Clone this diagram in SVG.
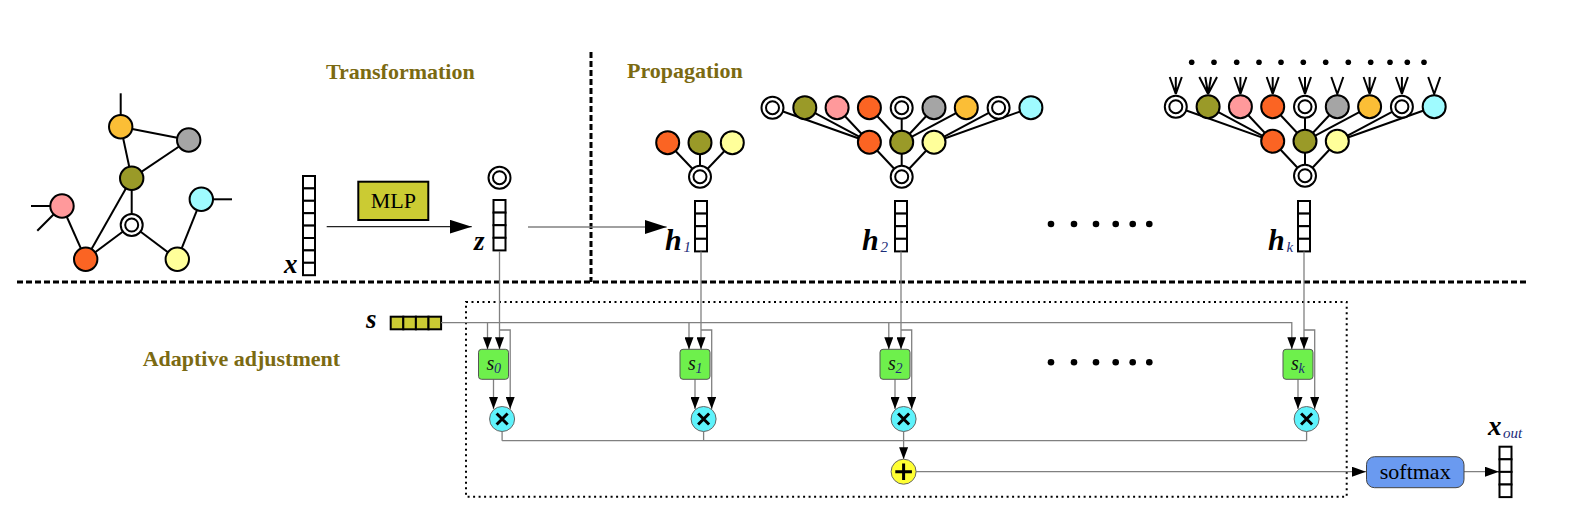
<svg xmlns="http://www.w3.org/2000/svg" width="1592" height="516" viewBox="0 0 1592 516">
<style>
.e{stroke:#000;stroke-width:2;fill:none}
.nd{stroke:#000;stroke-width:2}
.cell{fill:#fff;stroke:#000;stroke-width:2}
.ycell{fill:#cbcb33;stroke:#000;stroke-width:2}
.title{font-family:"Liberation Serif",serif;font-weight:bold;font-size:22px;fill:#7b6a12}
.lbl{font-family:"Liberation Serif",serif;font-weight:bold;font-style:italic;font-size:27px;fill:#000}
.hl{font-size:30px}
.sub{font-family:"Liberation Serif",serif;font-style:italic;font-size:15px;fill:#1c2c78}
.bx{font-family:"Liberation Serif",serif;font-style:italic;font-size:20px;fill:#111}
.bxs{font-family:"Liberation Serif",serif;font-style:italic;font-size:14px;fill:#1c2c78}
.wire{stroke:#808080;stroke-width:1.3;fill:none}
.wb{stroke:#222;stroke-width:1.2;fill:none}
.sbox{fill:#6ef04c;stroke:#555;stroke-width:1}
.mul{fill:#5ef3fc;stroke:#666;stroke-width:1}
.sym{stroke:#000;stroke-width:3;stroke-linecap:butt}
.ol{fill:#9a9a28}.rd{fill:#fb6423}.ly{fill:#ffff9a}.pk{fill:#ff999b}.gy{fill:#a5a5a5}.or{fill:#fbbe36}.cy{fill:#9ffbff}
.dot{fill:#000}
</style>
<defs>
<marker id="big" markerUnits="userSpaceOnUse" markerWidth="22" markerHeight="14" refX="22" refY="7" orient="auto"><path d="M0,0 L22,7 L0,14 z" fill="#000"/></marker>
<marker id="sm" markerUnits="userSpaceOnUse" markerWidth="12" markerHeight="9" refX="12" refY="4.5" orient="auto"><path d="M0,0 L12,4.5 L0,9 z" fill="#000"/></marker>
<marker id="md" markerUnits="userSpaceOnUse" markerWidth="14" markerHeight="10" refX="14" refY="5" orient="auto"><path d="M0,0 L14,5 L0,10 z" fill="#000"/></marker>
<g id="dbl"><circle r="11" fill="#fff" stroke="#000" stroke-width="2"/><circle r="6.5" fill="#fff" stroke="#000" stroke-width="2"/></g>
<g id="vec4"><rect x="0" y="0" width="12" height="12.6" class="cell"/><rect x="0" y="12.6" width="12" height="12.6" class="cell"/><rect x="0" y="25.2" width="12" height="12.6" class="cell"/><rect x="0" y="37.8" width="12" height="12.6" class="cell"/></g>
<g id="tree2">
<g class="e">
<line x1="0" y1="0" x2="-32.3" y2="-34.5"/><line x1="0" y1="0" x2="0" y2="-34.5"/><line x1="0" y1="0" x2="32.3" y2="-34.5"/>
<line x1="-32.3" y1="-34.5" x2="-129.2" y2="-69"/><line x1="-32.3" y1="-34.5" x2="-96.9" y2="-69"/><line x1="-32.3" y1="-34.5" x2="-64.6" y2="-69"/>
<line x1="0" y1="-34.5" x2="-32.3" y2="-69"/><line x1="0" y1="-34.5" x2="0" y2="-69"/><line x1="0" y1="-34.5" x2="32.3" y2="-69"/><line x1="0" y1="-34.5" x2="64.6" y2="-69"/>
<line x1="32.3" y1="-34.5" x2="96.9" y2="-69"/><line x1="32.3" y1="-34.5" x2="129.2" y2="-69"/>
</g>
<use href="#dbl" x="-129.2" y="-69"/>
<circle cx="-96.9" cy="-69" r="11.5" class="nd ol"/>
<circle cx="-64.6" cy="-69" r="11.5" class="nd pk"/>
<circle cx="-32.3" cy="-69" r="11.5" class="nd rd"/>
<use href="#dbl" x="0" y="-69"/>
<circle cx="32.3" cy="-69" r="11.5" class="nd gy"/>
<circle cx="64.6" cy="-69" r="11.5" class="nd or"/>
<use href="#dbl" x="96.9" y="-69"/>
<circle cx="129.2" cy="-69" r="11.5" class="nd cy"/>
<circle cx="-32.3" cy="-34.5" r="11.5" class="nd rd"/>
<circle cx="0" cy="-34.5" r="11.5" class="nd ol"/>
<circle cx="32.3" cy="-34.5" r="11.5" class="nd ly"/>
<use href="#dbl" x="0" y="0"/>
</g>
</defs>

<!-- separators -->
<g id="separators">
<line x1="17" y1="282" x2="1528" y2="282" stroke="#000" stroke-width="3" stroke-dasharray="6 3"/>
<line x1="591" y1="52" x2="591" y2="282" stroke="#000" stroke-width="3" stroke-dasharray="6 3"/>
<rect x="466" y="302" width="880.7" height="194.7" fill="none" stroke="#000" stroke-width="2" stroke-dasharray="2 3.5"/>
</g>

<!-- titles -->
<g id="titles">
<text x="326" y="79" class="title" font-size="22.3">Transformation</text>
<text x="627" y="78" class="title">Propagation</text>
<text x="142.7" y="366" class="title">Adaptive adjustment</text>
</g>

<!-- input graph -->
<g id="input-graph">
<g class="e">
<line x1="120.7" y1="126.7" x2="120.7" y2="93.3"/>
<line x1="62" y1="206" x2="31" y2="206"/>
<line x1="62" y1="206" x2="37.3" y2="230.7"/>
<line x1="201.3" y1="199.3" x2="232" y2="199.3"/>
<line x1="120.7" y1="126.7" x2="188.7" y2="140"/>
<line x1="120.7" y1="126.7" x2="131.7" y2="178.3"/>
<line x1="188.7" y1="140" x2="131.7" y2="178.3"/>
<line x1="131.7" y1="178.3" x2="131.7" y2="225"/>
<line x1="131.7" y1="178.3" x2="85.7" y2="259.3"/>
<line x1="62" y1="206" x2="85.7" y2="259.3"/>
<line x1="131.7" y1="225" x2="85.7" y2="259.3"/>
<line x1="131.7" y1="225" x2="177.3" y2="259.3"/>
<line x1="177.3" y1="259.3" x2="201.3" y2="199.3"/>
</g>
<circle cx="120.7" cy="126.7" r="11.7" class="nd or"/>
<circle cx="188.7" cy="140" r="11.7" class="nd gy"/>
<circle cx="131.7" cy="178.3" r="11.7" class="nd ol"/>
<circle cx="62" cy="206" r="11.7" class="nd pk"/>
<use href="#dbl" x="131.7" y="225"/>
<circle cx="201.3" cy="199.3" r="11.7" class="nd cy"/>
<circle cx="85.7" cy="259.3" r="11.7" class="nd rd"/>
<circle cx="177.3" cy="259.3" r="11.7" class="nd ly"/>
</g>

<!-- x vector -->
<g id="x-vec">
<rect x="303" y="176" width="12" height="12.4" class="cell"/>
<rect x="303" y="188.4" width="12" height="12.4" class="cell"/>
<rect x="303" y="200.8" width="12" height="12.4" class="cell"/>
<rect x="303" y="213.2" width="12" height="12.4" class="cell"/>
<rect x="303" y="225.6" width="12" height="12.4" class="cell"/>
<rect x="303" y="238" width="12" height="12.4" class="cell"/>
<rect x="303" y="250.4" width="12" height="12.4" class="cell"/>
<rect x="303" y="262.8" width="12" height="12.4" class="cell"/>
<text x="284" y="273" class="lbl">x</text>
</g>

<g id="mlp">
<rect x="358.3" y="181.7" width="70" height="38.3" fill="#cbcb33" stroke="#000" stroke-width="2"/>
<text x="393.3" y="208" text-anchor="middle" font-family="Liberation Serif, serif" font-size="22" fill="#000">MLP</text>
</g>

<g id="z-vec">
<use href="#dbl" x="499.5" y="177.7"/>
<use href="#vec4" x="493.5" y="200"/>
<text x="474" y="250" class="lbl">z</text>
</g>

<g id="h1">
<g class="e">
<line x1="700" y1="176.7" x2="667.7" y2="142.7"/><line x1="700" y1="176.7" x2="700" y2="142.7"/><line x1="700" y1="176.7" x2="732.3" y2="142.7"/>
</g>
<circle cx="667.7" cy="142.7" r="11.5" class="nd rd"/>
<circle cx="700" cy="142.7" r="11.5" class="nd ol"/>
<circle cx="732.3" cy="142.7" r="11.5" class="nd ly"/>
<use href="#dbl" x="700" y="176.7"/>
<use href="#vec4" x="695" y="201"/>
<text x="665" y="250" class="lbl hl">h</text><text x="683.5" y="252" class="sub">1</text>
</g>

<g id="h2">
<use href="#tree2" transform="translate(901.7,176.7)"/>
<use href="#vec4" x="895" y="201"/>
<text x="862" y="250" class="lbl hl">h</text><text x="880.5" y="252" class="sub">2</text>
</g>

<g id="hk">
<g class="dot">
<circle cx="1191.7" cy="62.3" r="2.8"/><circle cx="1214" cy="62.3" r="2.8"/><circle cx="1236.7" cy="62.3" r="2.8"/><circle cx="1259" cy="62.3" r="2.8"/><circle cx="1281" cy="62.3" r="2.8"/><circle cx="1303.3" cy="62.3" r="2.8"/><circle cx="1325.7" cy="62.3" r="2.8"/><circle cx="1348.3" cy="62.3" r="2.8"/><circle cx="1370.7" cy="62.3" r="2.8"/><circle cx="1390" cy="62.3" r="2.8"/><circle cx="1407.3" cy="62.3" r="2.8"/><circle cx="1424" cy="62.3" r="2.8"/>
</g>
<g class="e" stroke-width="1.8">
<path d="M1169.7,77 L1175.8,94 L1175.8,77 M1181.8,77 L1175.8,94"/>
<path d="M1199.3,77 L1208.1,94 L1205.3,77 M1211,77 L1208.1,94 L1217,77"/>
<path d="M1234.4,77 L1240.4,94 L1240.4,77 M1246.4,77 L1240.4,94"/>
<path d="M1266.7,77 L1272.7,94 L1272.7,77 M1278.7,77 L1272.7,94"/>
<path d="M1299,77 L1305,94 L1305,77 M1311,77 L1305,94"/>
<path d="M1331.3,77 L1337.3,94 L1343.3,77"/>
<path d="M1363.6,77 L1369.6,94 L1369.6,77 M1375.6,77 L1369.6,94"/>
<path d="M1395.9,77 L1401.9,94 L1401.9,77 M1407.9,77 L1401.9,94"/>
<path d="M1428.2,77 L1434.2,94 L1440.2,77"/>
</g>
<use href="#tree2" transform="translate(1305,175.7)"/>
<use href="#vec4" x="1298" y="201"/>
<text x="1268" y="250" class="lbl hl">h</text><text x="1286.5" y="252" class="sub">k</text>
</g>

<g id="ellipsis">
<g class="dot">
<circle cx="1051" cy="224" r="3.3"/><circle cx="1074" cy="224" r="3.3"/><circle cx="1096" cy="224" r="3.3"/><circle cx="1115.7" cy="224" r="3.3"/><circle cx="1132.7" cy="224" r="3.3"/><circle cx="1149.3" cy="224" r="3.3"/>
<circle cx="1051" cy="362.3" r="3.3"/><circle cx="1074" cy="362.3" r="3.3"/><circle cx="1096" cy="362.3" r="3.3"/><circle cx="1115.7" cy="362.3" r="3.3"/><circle cx="1132.7" cy="362.3" r="3.3"/><circle cx="1149.3" cy="362.3" r="3.3"/>
</g>
</g>

<g id="s-vec">
<text x="366" y="328" class="lbl">s</text>
<rect x="390.7" y="316.7" width="12.6" height="12.6" class="ycell"/>
<rect x="403.3" y="316.7" width="12.6" height="12.6" class="ycell"/>
<rect x="415.9" y="316.7" width="12.6" height="12.6" class="ycell"/>
<rect x="428.5" y="316.7" width="12.6" height="12.6" class="ycell"/>
</g>

<!-- connectors -->
<g id="connectors">
<line x1="326.7" y1="226.7" x2="471.7" y2="226.7" class="wb" marker-end="url(#big)"/>
<line x1="528" y1="227" x2="666.7" y2="227" class="wire" marker-end="url(#big)"/>
<polyline points="441.1,322.7 1291.8,322.7 1291.8,349.3" class="wire" marker-end="url(#sm)"/>
<line x1="487.5" y1="322.7" x2="487.5" y2="349.3" class="wire" marker-end="url(#sm)"/>
<line x1="689" y1="322.7" x2="689" y2="349.3" class="wire" marker-end="url(#sm)"/>
<line x1="888.8" y1="322.7" x2="888.8" y2="349.3" class="wire" marker-end="url(#sm)"/>
<line x1="499.5" y1="251" x2="499.5" y2="349.3" class="wire" marker-end="url(#sm)"/>
<line x1="701" y1="251.5" x2="701" y2="349.3" class="wire" marker-end="url(#sm)"/>
<line x1="901" y1="251.5" x2="901" y2="349.3" class="wire" marker-end="url(#sm)"/>
<line x1="1304" y1="251.5" x2="1304" y2="349.3" class="wire" marker-end="url(#sm)"/>
<polyline points="499.5,330 510.2,330 510.2,409" class="wire" marker-end="url(#sm)"/>
<polyline points="701,330 711.7,330 711.7,409" class="wire" marker-end="url(#sm)"/>
<polyline points="901,330 911.7,330 911.7,409" class="wire" marker-end="url(#sm)"/>
<polyline points="1304,330 1314.7,330 1314.7,409" class="wire" marker-end="url(#sm)"/>
<line x1="493.5" y1="379.3" x2="493.5" y2="409" class="wire" marker-end="url(#sm)"/>
<line x1="695" y1="379.3" x2="695" y2="409" class="wire" marker-end="url(#sm)"/>
<line x1="895" y1="379.3" x2="895" y2="409" class="wire" marker-end="url(#sm)"/>
<line x1="1298" y1="379.3" x2="1298" y2="409" class="wire" marker-end="url(#sm)"/>
<line x1="502.1" y1="431.5" x2="502.1" y2="440.7" class="wire"/>
<line x1="703.6" y1="431.5" x2="703.6" y2="440.7" class="wire"/>
<line x1="1306.6" y1="431.5" x2="1306.6" y2="440.7" class="wire"/>
<line x1="502.1" y1="440.7" x2="1306.6" y2="440.7" class="wire"/>
<line x1="903.6" y1="431.5" x2="903.6" y2="459.2" class="wire" marker-end="url(#sm)"/>
<line x1="916.1" y1="471.7" x2="1366" y2="471.7" class="wire" marker-end="url(#md)"/>
<line x1="1464" y1="471.7" x2="1499" y2="471.7" class="wire" marker-end="url(#md)"/>
</g>

<g id="s0">
<rect x="478.5" y="349.3" width="30" height="30" rx="3" class="sbox"/>
<text x="486.5" y="370" class="bx">s</text><text x="494" y="373" class="bxs">0</text>
<circle cx="502.1" cy="419" r="12.5" class="mul"/>
<path d="M496.6,413.5 L507.6,424.5 M507.6,413.5 L496.6,424.5" class="sym"/>
</g>
<g id="s1">
<rect x="680" y="349.3" width="30" height="30" rx="3" class="sbox"/>
<text x="688" y="370" class="bx">s</text><text x="695.5" y="373" class="bxs">1</text>
<circle cx="703.6" cy="419" r="12.5" class="mul"/>
<path d="M698.1,413.5 L709.1,424.5 M709.1,413.5 L698.1,424.5" class="sym"/>
</g>
<g id="s2">
<rect x="880" y="349.3" width="30" height="30" rx="3" class="sbox"/>
<text x="888" y="370" class="bx">s</text><text x="895.5" y="373" class="bxs">2</text>
<circle cx="903.6" cy="419" r="12.5" class="mul"/>
<path d="M898.1,413.5 L909.1,424.5 M909.1,413.5 L898.1,424.5" class="sym"/>
</g>
<g id="sk">
<rect x="1283" y="349.3" width="30" height="30" rx="3" class="sbox"/>
<text x="1291" y="370" class="bx">s</text><text x="1298.5" y="373" class="bxs">k</text>
<circle cx="1306.6" cy="419" r="12.5" class="mul"/>
<path d="M1301.1,413.5 L1312.1,424.5 M1312.1,413.5 L1301.1,424.5" class="sym"/>
</g>

<g id="sum">
<circle cx="903.6" cy="471.7" r="12.5" fill="#ffff33" stroke="#666" stroke-width="1"/>
<path d="M895.3,471.7 L911.9,471.7 M903.6,463.4 L903.6,480" class="sym"/>
</g>

<g id="softmax">
<rect x="1366.5" y="456.7" width="97.5" height="31" rx="8" fill="#6a9af0" stroke="#444" stroke-width="1"/>
<text x="1415.2" y="479" text-anchor="middle" font-family="Liberation Serif, serif" font-size="22" fill="#000">softmax</text>
</g>

<g id="x-out">
<use href="#vec4" x="1499.5" y="446.7"/>
<text x="1488" y="435" class="lbl">x</text><text x="1503" y="438" class="sub" font-size="19">out</text>
</g>
</svg>
